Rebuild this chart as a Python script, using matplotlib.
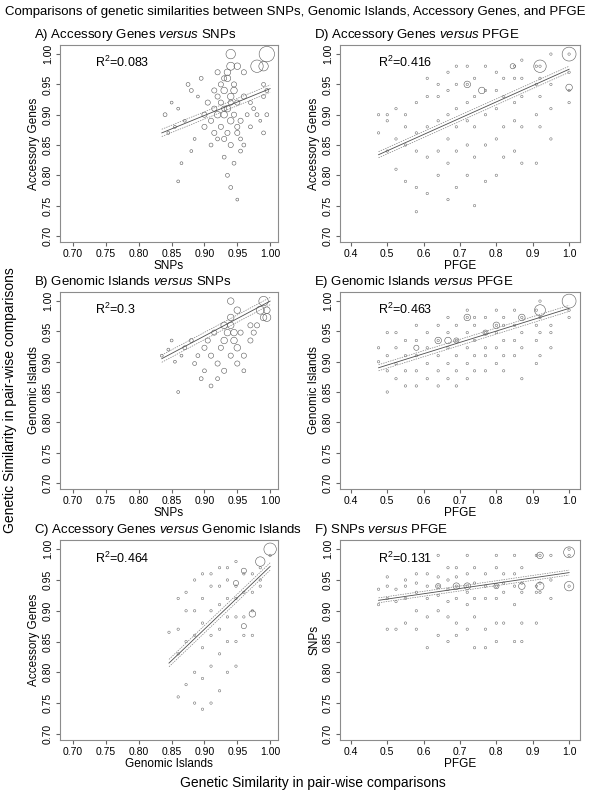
import matplotlib
matplotlib.use("Agg")
import matplotlib.pyplot as plt
import numpy as np

# ── data ──────────────────────────────────────────────────────────────────────
# A) Accessory Genes vs SNPs: (snp, acc, count)
A_x = [0.84, 0.845, 0.85, 0.855, 0.86, 0.865, 0.87, 0.875, 0.88, 0.885, 0.89, 0.895, 0.90, 0.90, 0.905, 0.91,
       0.91, 0.915, 0.915, 0.92, 0.92, 0.92, 0.925, 0.925, 0.925, 0.93, 0.93, 0.93, 0.93, 0.935, 0.935, 0.935,
       0.935, 0.94, 0.94, 0.94, 0.94, 0.945, 0.945, 0.945, 0.95, 0.95, 0.95, 0.955, 0.955, 0.96, 0.96, 0.965,
       0.97, 0.97, 0.975, 0.98, 0.985, 0.99, 0.99, 0.99, 0.995, 0.995, 0.94, 0.935, 0.93, 0.95, 0.92, 0.945,
       0.94, 0.96, 0.98, 0.99, 0.995, 0.93, 0.95, 0.86, 0.88, 0.915, 0.94, 0.955]
A_y = [0.90, 0.87, 0.92, 0.88, 0.91, 0.82, 0.89, 0.95, 0.94, 0.86, 0.93, 0.96, 0.90, 0.88, 0.92, 0.89,
       0.85, 0.91, 0.87, 0.93, 0.90, 0.86, 0.92, 0.88, 0.95, 0.94, 0.90, 0.86, 0.83, 0.96, 0.91, 0.87,
       0.80, 0.93, 0.89, 0.85, 0.78, 0.94, 0.90, 0.82, 0.92, 0.87, 0.76, 0.89, 0.84, 0.93, 0.85, 0.90,
       0.88, 0.92, 0.91, 0.90, 0.89, 0.95, 0.87, 0.93, 0.94, 0.90, 0.98, 0.97, 0.96, 0.98, 0.97, 0.95,
       1.00, 0.97, 0.98, 0.98, 1.00, 0.91, 0.88, 0.79, 0.84, 0.94, 0.92, 0.86]
A_n = [2, 1, 1, 1, 1, 1, 1, 2, 2, 1, 1, 2, 3, 3, 3, 3,
       2, 3, 3, 3, 4, 2, 3, 3, 3, 4, 4, 3, 2, 4, 4, 3,
       2, 4, 4, 3, 2, 4, 3, 2, 3, 3, 1, 3, 2, 3, 2, 2,
       2, 2, 2, 2, 1, 2, 2, 2, 2, 2, 5, 4, 3, 4, 3, 3,
       6, 3, 8, 6, 10, 3, 3, 1, 1, 3, 3, 2]

# D) Accessory Genes vs PFGE: column x values and y values per column
PF_cols = [0.476, 0.50, 0.524, 0.55, 0.58, 0.61, 0.64, 0.667, 0.69, 0.72, 0.74, 0.77, 0.80, 0.82, 0.85, 0.87, 0.91, 0.92, 0.95, 1.00]
D_y = [[0.87, 0.90], [0.84, 0.89, 0.90], [0.81, 0.86, 0.91], [0.79, 0.85, 0.88, 0.90],
       [0.74, 0.78, 0.84, 0.87, 0.92], [0.77, 0.83, 0.88, 0.93, 0.96], [0.80, 0.84, 0.89, 0.93, 0.95],
       [0.76, 0.82, 0.86, 0.90, 0.94, 0.97], [0.78, 0.84, 0.88, 0.91, 0.95, 0.98], [0.80, 0.85, 0.89, 0.92, 0.95, 0.98],
       [0.75, 0.83, 0.88, 0.93, 0.96], [0.79, 0.85, 0.90, 0.94, 0.98], [0.80, 0.86, 0.91, 0.94, 0.97],
       [0.83, 0.88, 0.93, 0.96], [0.84, 0.89, 0.92, 0.96, 0.98], [0.82, 0.88, 0.93, 0.96, 0.99],
       [0.82, 0.90, 0.95, 0.98], [0.88, 0.93, 0.96, 0.98], [0.86, 0.91, 0.95, 1.00], [0.92, 0.94, 0.97, 1.00]]
D_big = [(0.92, 0.98, 8), (1.00, 1.00, 9), (1.00, 0.945, 4), (0.72, 0.95, 4), (0.76, 0.94, 4), (0.845, 0.98, 3)]

# B) Genomic Islands vs SNPs
B_x = [0.835, 0.845, 0.85, 0.855, 0.86, 0.865, 0.87, 0.88, 0.885, 0.89, 0.895, 0.90, 0.905, 0.91, 0.915, 0.92, 0.925,
       0.93, 0.935, 0.94, 0.945, 0.95, 0.955, 0.96, 0.97, 0.98, 0.99, 0.995, 0.90, 0.91, 0.92, 0.93, 0.94, 0.95,
       0.96, 0.93, 0.94, 0.95, 0.945, 0.94, 0.99, 0.985, 0.995, 0.97, 0.975]
B_y = [0.91, 0.92, 0.935, 0.90, 0.85, 0.91, 0.923, 0.935, 0.897, 0.91, 0.872, 0.923, 0.935, 0.91, 0.948, 0.897, 0.923,
       0.935, 0.948, 0.96, 0.935, 0.923, 0.948, 0.91, 0.935, 0.96, 0.973, 0.985, 0.885, 0.86, 0.872, 0.885, 0.91, 0.897,
       0.885, 0.96, 0.973, 0.985, 0.948, 1.00, 1.00, 0.985, 0.973, 0.96, 0.948]
B_n = [1, 1, 1, 1, 1, 1, 2, 2, 2, 2, 2, 3, 3, 3, 3, 3, 3,
       4, 4, 4, 4, 4, 3, 3, 3, 3, 4, 4, 2, 2, 2, 3, 3, 3,
       2, 4, 4, 4, 4, 4, 6, 5, 5, 3, 3]

# E) Genomic Islands vs PFGE (y values per PFGE column)
E_y = [[0.90, 0.923], [0.85, 0.885, 0.91, 0.948], [0.872, 0.897, 0.923, 0.948], [0.86, 0.885, 0.91, 0.935],
       [0.86, 0.885, 0.91, 0.935, 0.96], [0.872, 0.897, 0.923, 0.948], [0.86, 0.885, 0.91, 0.935, 0.96],
       [0.872, 0.897, 0.923, 0.948, 0.973], [0.86, 0.885, 0.91, 0.935, 0.96], [0.872, 0.897, 0.923, 0.948, 0.973, 0.985],
       [0.885, 0.91, 0.935, 0.96, 0.973], [0.885, 0.91, 0.923, 0.948, 0.973], [0.897, 0.923, 0.948, 0.96, 0.985],
       [0.885, 0.91, 0.935, 0.96, 0.973], [0.91, 0.935, 0.96, 0.985], [0.872, 0.923, 0.948, 0.973],
       [0.897, 0.935, 0.96, 0.985], [0.91, 0.948, 0.973, 1.00], [0.923, 0.948, 0.96], [0.973, 0.985]]
E_big = [(0.64, 0.935, 4), (0.667, 0.935, 4), (0.72, 0.973, 4), (0.77, 0.948, 3), (0.80, 0.96, 4),
         (0.87, 0.973, 4), (0.92, 0.985, 7), (1.00, 1.00, 9), (0.58, 0.923, 3), (0.69, 0.935, 3)]

# C) Accessory Genes vs Genomic Islands
GI_cols = [0.846, 0.86, 0.872, 0.885, 0.897, 0.91, 0.923, 0.935, 0.948, 0.96, 0.973, 0.985, 1.00]
C_y = [[0.865], [0.76, 0.83, 0.87, 0.92], [0.78, 0.85, 0.90, 0.93], [0.75, 0.80, 0.86, 0.90, 0.95],
       [0.74, 0.79, 0.84, 0.88, 0.92, 0.96], [0.75, 0.81, 0.86, 0.90, 0.94, 0.96], [0.77, 0.83, 0.87, 0.91, 0.94, 0.97],
       [0.80, 0.85, 0.89, 0.92, 0.95, 0.97], [0.81, 0.85, 0.89, 0.92, 0.94, 0.98], [0.86, 0.89, 0.93, 0.96],
       [0.86, 0.90, 0.93, 0.96], [0.94, 0.95, 0.97], [0.99]]
C_big = [(0.985, 0.98, 6), (1.00, 1.00, 8), (0.973, 0.895, 4), (0.96, 0.875, 3), (0.96, 0.965, 3), (0.948, 0.945, 3)]

# F) SNPs vs PFGE
F_y = [[0.91, 0.935], [0.87, 0.92, 0.94, 0.955], [0.87, 0.915, 0.935], [0.88, 0.92, 0.94, 0.95],
       [0.87, 0.90, 0.93, 0.945, 0.96], [0.84, 0.89, 0.92, 0.94, 0.96], [0.86, 0.90, 0.925, 0.94, 0.955, 0.99],
       [0.85, 0.89, 0.915, 0.935, 0.95, 0.97], [0.86, 0.88, 0.92, 0.94, 0.955, 0.97], [0.87, 0.91, 0.93, 0.94, 0.96, 0.99],
       [0.84, 0.89, 0.92, 0.945, 0.97], [0.84, 0.87, 0.92, 0.94, 0.96], [0.85, 0.88, 0.92, 0.94, 0.97, 0.99],
       [0.88, 0.93, 0.945, 0.96], [0.85, 0.91, 0.94, 0.96, 0.99], [0.85, 0.88, 0.93, 0.945, 0.97],
       [0.88, 0.93, 0.94, 0.99], [0.93, 0.945, 0.99], [0.92, 0.95, 0.99], [0.94, 0.99, 1.00]]
F_big = [(1.00, 0.995, 7), (1.00, 0.94, 6), (0.92, 0.94, 5), (0.92, 0.99, 4), (0.72, 0.94, 4),
         (0.69, 0.94, 4), (0.87, 0.94, 4), (0.64, 0.94, 3), (0.80, 0.94, 3)]

# regression lines: (x0, y0, x1, y1, half-width of band)
FITS = {
    "A": (0.835, 0.870, 1.00, 0.943, 0.006),
    "B": (0.835, 0.905, 1.00, 1.000, 0.006),
    "C": (0.846, 0.815, 1.00, 0.972, 0.006),
    "D": (0.476, 0.834, 1.00, 0.975, 0.005),
    "E": (0.476, 0.890, 1.00, 0.988, 0.005),
    "F": (0.476, 0.917, 1.00, 0.962, 0.004),
}
R2 = {"A": "0.083", "B": "0.3", "C": "0.464", "D": "0.416", "E": "0.463", "F": "0.131"}

plt.rcParams.update({
    "font.family": ["Liberation Sans", "DejaVu Sans"],
    "font.size": 8,
    "mathtext.fontset": "custom",
    "mathtext.rm": "Liberation Sans",
    "mathtext.it": "Liberation Sans:italic",
})

fig = plt.figure(figsize=(5.9, 8.0), dpi=100)
W, H = 590, 800


def box(x0, y0, x1, y1):
    return [x0 / W, 1 - y1 / H, (x1 - x0) / W, (y1 - y0) / H]


def style(ax, xlabel, ylabel, snp_x):
    for s in ax.spines.values():
        s.set_color("0.55")
        s.set_linewidth(0.8)
    ax.set_ylim(0.69, 1.015)
    ax.set_yticks([0.70, 0.75, 0.80, 0.85, 0.90, 0.95, 1.00])
    ax.set_yticklabels([f"{v:.2f}" for v in ax.get_yticks()], rotation=90, va="center", fontsize=7.5)
    if snp_x:
        ax.set_xlim(0.68, 1.012)
        ax.set_xticks([0.70, 0.75, 0.80, 0.85, 0.90, 0.95, 1.00])
        ax.set_xticklabels([f"{v:.2f}" for v in ax.get_xticks()], fontsize=7.5)
    else:
        ax.set_xlim(0.37, 1.03)
        ax.set_xticks([0.4, 0.5, 0.6, 0.7, 0.8, 0.9, 1.0])
        ax.set_xticklabels([f"{v:.1f}" for v in ax.get_xticks()], fontsize=7.5)
    ax.tick_params(length=3, color="0.4", pad=2)
    ax.set_xlabel(xlabel, fontsize=8.5, labelpad=1)
    ax.set_ylabel(ylabel, fontsize=8.5, labelpad=2)


def fit(ax, key):
    x0, y0, x1, y1, h = FITS[key]
    ax.plot([x0, x1], [y0, y1], color="0.3", lw=0.6)
    ax.plot([x0, x1], [y0 + h, y1 + h], color="0.5", lw=0.5, ls=(0, (2, 1.5)))
    ax.plot([x0, x1], [y0 - h, y1 - h], color="0.5", lw=0.5, ls=(0, (2, 1.5)))
    ax.text(0.16, 0.91, f"R$^2$={R2[key]}", transform=ax.transAxes, fontsize=9, va="center")


def dots(ax, xs, ys, ns):
    ax.scatter(xs, ys, s=[3 + 1.2 * n * n for n in ns], facecolors="none",
               edgecolors="0.35", linewidths=0.4, zorder=2)


def cols(ax, cx, ylists, big):
    xs = [c for c, ys in zip(cx, ylists) for _ in ys]
    yy = [y for ys in ylists for y in ys]
    ax.scatter(xs, yy, s=3, facecolors="none", edgecolors="0.45", linewidths=0.4, zorder=2)
    bx, by, bn = zip(*big)
    dots(ax, bx, by, bn)


panels = [
    ("A", "A) Accessory Genes ", "SNPs", (60, 45, 278, 242), "SNPs", "Accessory Genes", True),
    ("D", "D) Accessory Genes ", "PFGE", (340, 45, 580, 242), "PFGE", "Accessory Genes", False),
    ("B", "B) Genomic Islands ", "SNPs", (60, 292, 278, 489), "SNPs", "Genomic Islands", True),
    ("E", "E) Genomic Islands ", "PFGE", (340, 292, 580, 489), "PFGE", "Genomic Islands", False),
    ("C", "C) Accessory Genes ", "Genomic Islands", (60, 540, 278, 740), "Genomic Islands", "Accessory Genes", True),
    ("F", "F) SNPs ", "PFGE", (340, 540, 580, 740), "PFGE", "SNPs", False),
]

for key, t1, t2, bb, xl, yl, snp_x in panels:
    ax = fig.add_axes(box(*bb))
    if key == "A":
        dots(ax, A_x, A_y, A_n)
    elif key == "B":
        dots(ax, B_x, B_y, B_n)
    elif key == "C":
        cols(ax, GI_cols, C_y, C_big)
    elif key == "D":
        cols(ax, PF_cols, D_y, D_big)
    elif key == "E":
        cols(ax, PF_cols, E_y, E_big)
    else:
        cols(ax, PF_cols, F_y, F_big)
    fit(ax, key)
    style(ax, xl, yl, snp_x)
    ax.text(-0.12 if snp_x else -0.11, 1.01, t1 + r"$\it{versus}$ " + t2, transform=ax.transAxes,
            fontsize=9.5, va="bottom", ha="left")

fig.text(0.5, 0.992, "Comparisons of genetic similarities between SNPs, Genomic Islands, Accessory Genes, and PFGE",
         ha="center", va="top", fontsize=9.5)
fig.text(0.53, 0.012, "Genetic Similarity in pair-wise comparisons", ha="center", va="bottom", fontsize=10)
fig.text(0.005, 0.5, "Genetic Similarity in pair-wise comparisons", ha="left", va="center",
         rotation=90, fontsize=10)

fig.savefig("out.png", dpi=100)
